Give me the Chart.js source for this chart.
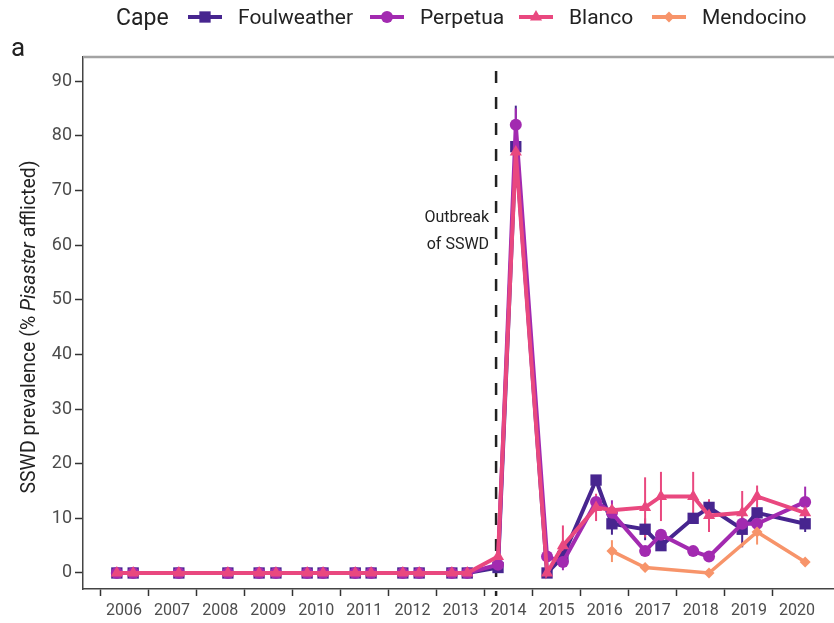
<!DOCTYPE html>
<html>
<head>
<meta charset="utf-8">
<script src="https://cdn.jsdelivr.net/npm/chart.js@4"></script>
<style>
  html, body { margin: 0; padding: 0; background: #fff; overflow: hidden; }
  body { width: 834px; height: 623px; position: relative; font-family: Roboto, sans-serif; }
  #chart { position: absolute; left: 0; top: 0; }
  #legend { position: absolute; left: 0; top: 0; width: 834px; height: 36px; color: #222; }
  #legend span, #legend canvas { position: absolute; white-space: nowrap; }
  #legend span { top: 17px; transform: translateY(-50%); font-size: 21px; line-height: 1; }
  #legend canvas { top: 7px; }
  #panel { position: absolute; left: 11px; top: 32px; font-size: 26px; color: #222; }
  #ytitle { position: absolute; left: 28px; top: 327px; transform: translate(-50%, -50%) rotate(-90deg); font-size: 19.5px; color: #222; white-space: nowrap; }
</style>
</head>
<body>
<canvas id="chart" width="842" height="623"></canvas>
<div id="legend"></div>
<div id="panel">a</div>
<div id="ytitle">SSWD prevalence (% <i>Pisaster</i> afflicted)</div>
<script>
// sampling dates, as decimal years
let sampleYears = [2006.35, 2006.69, 2007.64, 2008.66, 2009.31, 2009.66, 2010.31, 2010.64,
	2011.31, 2011.64, 2012.30, 2012.64, 2013.32, 2013.64, 2014.28, 2014.65, 2015.30, 2015.63,
	2016.32, 2016.65, 2017.34, 2017.67, 2018.34, 2018.67, 2019.36, 2019.67, 2020.67];

let capes = ["Foulweather", "Perpetua", "Blanco", "Mendocino"];

// % Pisaster afflicted
let foulweather = [0, 0, 0, 0, 0, 0, 0, 0, 0, 0, 0, 0, 0, 0, 1, 78, 0, 3, 17, 9, 8, 5, 10, 12, 8, 11, 9];
let perpetua = [0, 0, 0, 0, 0, 0, 0, 0, 0, 0, 0, 0, 0, 0, 1.5, 82, 3, 2, 13, 11, 4, 7, 4, 3, 9, 9, 13];
let blanco = [0, 0, 0, 0, 0, 0, 0, 0, 0, 0, 0, 0, 0, 0, 3, 77, 0, 5, 12, 11.5, 12, 14, 14, 10.5, 11, 14, 11];
let mendocino = [null, null, null, null, null, null, null, null, null, null, null, null, null, null,
	null, null, null, null, null, 4, 1, null, null, 0, null, 7.5, 2];

// error bar half-lengths
let foulweatherErr = [null, null, null, null, null, null, null, null, null, null, null, null, null, null,
	null, 7.5, null, 2, null, 2, 2, null, null, null, 3.3, null, 1.5];
let perpetuaErr = [null, null, null, null, null, null, null, null, null, null, null, null, null, null,
	null, 3, null, 1.5, null, 2.3, null, null, null, null, null, null, 2.8];
let blancoErr = [null, null, null, null, null, null, null, null, null, null, null, null, null, null,
	null, 3, null, 3.7, 2.5, null, 5.5, 4.5, 4.5, 3, 4, 2, null];
let mendocinoErr = [null, null, null, null, null, null, null, null, null, null, null, null, null, null,
	null, null, null, null, null, 2, null, null, null, null, null, 2.3, null];

let outbreakYear = 2014.24;
let xTicks = [2006, 2007, 2008, 2009, 2010, 2011, 2012, 2013, 2014, 2015, 2016, 2017, 2018, 2019, 2020];
let yTicks = [0, 10, 20, 30, 40, 50, 60, 70, 80, 90];

let colors = ["#47258f", "#a22ab0", "#e9487f", "#f7946a"];
let shapes = ["rect", "circle", "triangle", "rectRot"];
let radii = [8, 6, 7, 5.5];

function points(vals, errs) {
	return sampleYears
		.map((x, i) => ({ x: x, y: vals[i], err: errs[i] }))
		.filter((p) => p.y !== null);
}

let series = [
	points(foulweather, foulweatherErr),
	points(perpetua, perpetuaErr),
	points(blanco, blancoErr),
	points(mendocino, mendocinoErr),
];

// little marker used in the html legend
function drawMarker(ctx, shape, x, y, r) {
	ctx.beginPath();
	if (shape == "rect") {
		let s = r * Math.SQRT1_2;
		ctx.rect(x - s, y - s, 2 * s, 2 * s);
	} else if (shape == "circle") {
		ctx.arc(x, y, r, 0, Math.PI * 2);
	} else if (shape == "triangle") {
		for (let k = 0; k < 3; k++) {
			let a = k * Math.PI * 2 / 3;
			ctx.lineTo(x + Math.sin(a) * r, y - Math.cos(a) * r);
		}
		ctx.closePath();
	} else {
		ctx.moveTo(x, y - r);
		ctx.lineTo(x + r, y);
		ctx.lineTo(x, y + r);
		ctx.lineTo(x - r, y);
		ctx.closePath();
	}
	ctx.fill();
}

// legend: title, then key + label for each cape
let legend = document.querySelector("#legend");
let title = document.createElement("span");
title.textContent = "Cape";
title.style.left = "116px";
title.style.fontSize = "23px";
legend.appendChild(title);

let keyLeft = [188, 370, 519, 652];
capes.forEach((name, i) => {
	let c = document.createElement("canvas");
	c.width = 34;
	c.height = 20;
	c.style.left = keyLeft[i] + "px";
	let g = c.getContext("2d");
	g.strokeStyle = colors[i];
	g.fillStyle = colors[i];
	g.lineWidth = 4;
	g.beginPath();
	g.moveTo(0, 10);
	g.lineTo(34, 10);
	g.stroke();
	drawMarker(g, shapes[i], 17, 10, radii[i]);
	legend.appendChild(c);

	let label = document.createElement("span");
	label.textContent = name;
	label.style.left = keyLeft[i] + 50 + "px";
	legend.appendChild(label);
});

let extras = {
	id: "extras",
	beforeDatasetsDraw(chart) {
		let { ctx, chartArea, scales } = chart;
		let x = scales.x, y = scales.y;

		// outbreak line + label
		let ox = x.getPixelForValue(outbreakYear);
		ctx.save();
		ctx.strokeStyle = "#222";
		ctx.lineWidth = 2.5;
		ctx.setLineDash([12, 14]);
		ctx.beginPath();
		ctx.moveTo(ox, chartArea.top + 14);
		ctx.lineTo(ox, chartArea.bottom + 7);
		ctx.stroke();
		ctx.setLineDash([]);
		ctx.fillStyle = "#222";
		ctx.font = "16px Roboto";
		ctx.textAlign = "right";
		ctx.textBaseline = "middle";
		ctx.fillText("Outbreak", ox - 7, y.getPixelForValue(65));
		ctx.fillText("of SSWD", ox - 7, y.getPixelForValue(60));

		// error bars
		chart.data.datasets.forEach((ds, i) => {
			ctx.strokeStyle = colors[i];
			ctx.lineWidth = 2;
			ds.data.forEach((p) => {
				if (p.err == null) return;
				let px = x.getPixelForValue(p.x);
				ctx.beginPath();
				ctx.moveTo(px, y.getPixelForValue(p.y - p.err));
				ctx.lineTo(px, y.getPixelForValue(p.y + p.err));
				ctx.stroke();
			});
		});
		ctx.restore();
	},
	afterDraw(chart) {
		let { ctx, chartArea } = chart;
		ctx.save();
		ctx.strokeStyle = "#a3a3a3";
		ctx.lineWidth = 2.5;
		ctx.beginPath();
		ctx.moveTo(chartArea.left, chartArea.top);
		ctx.lineTo(chart.width, chartArea.top);
		ctx.stroke();
		ctx.restore();
	},
};

let ctx = document.getElementById("chart").getContext("2d");
let chart = new Chart(ctx, {
	type: "line",
	data: {
		datasets: capes.map((name, i) => ({
			label: name,
			data: series[i],
			borderColor: colors[i],
			backgroundColor: colors[i],
			borderWidth: i == 3 ? 3.5 : 4,
			pointStyle: shapes[i],
			pointRadius: radii[i],
			pointBorderWidth: 0,
			pointHoverRadius: radii[i],
			tension: 0,
			order: 4 - i,
		})),
	},
	options: {
		responsive: false,
		animation: false,
		devicePixelRatio: 1,
		layout: { padding: { top: 57, left: 0, right: 0, bottom: 0 } },
		plugins: { legend: { display: false }, tooltip: { enabled: false } },
		scales: {
			x: {
				type: "linear",
				min: 2005.646,
				max: 2021.27,
				afterBuildTicks: (s) => { s.ticks = xTicks.map((v) => ({ value: v })); },
				afterFit: (s) => { s.height = 34; },
				ticks: {
					callback: (v) => String(v),
					labelOffset: 24,
					autoSkip: false,
					maxRotation: 0,
					padding: 5,
					color: "#4d4d4d",
					font: { family: "Roboto", size: 16 },
				},
				grid: { drawOnChartArea: false, tickLength: 7, tickColor: "#333", tickWidth: 1.5 },
				border: { color: "#444", width: 1.5 },
			},
			y: {
				min: -2.93,
				max: 94.4,
				afterBuildTicks: (s) => { s.ticks = yTicks.map((v) => ({ value: v })); },
				afterFit: (s) => { s.width = 83; },
				ticks: {
					padding: 3,
					color: "#4d4d4d",
					font: { family: "Roboto", size: 18 },
				},
				grid: { drawOnChartArea: false, tickLength: 8, tickColor: "#333", tickWidth: 1.5 },
				border: { color: "#444", width: 1.5 },
			},
		},
	},
	plugins: [extras],
});
</script>
</body>
</html>
